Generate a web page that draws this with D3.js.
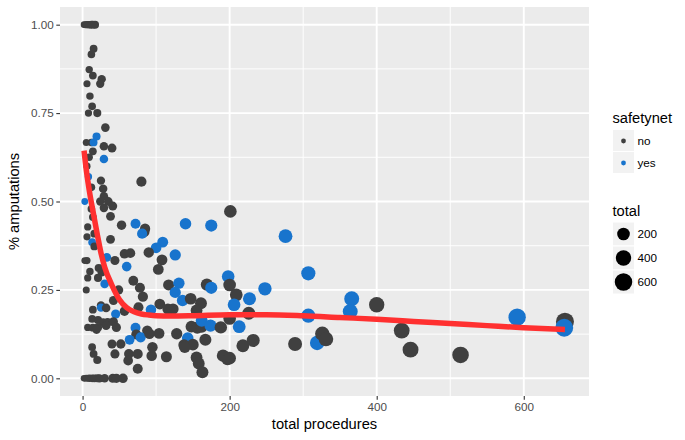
<!DOCTYPE html>
<html><head><meta charset="utf-8">
<script src="https://cdn.jsdelivr.net/npm/d3@7"></script>
<style>body{margin:0;background:#fff}svg{display:block}</style>
</head><body>
<svg id="c" width="685" height="440"></svg>
<script>
// ---- data ----
const totals = [2,4,6,8,10,12,14,17,
15,12,9,14,26,24,6,10,13,8,20,31,19,5,12,15,29,40,14,29,9,80,25,28,12,6,8,29,3,24,35,29,41,12,14,38,7,53,72,85,84,81,140,175,201,16,6,13,38,16,109,100,90,126,57,65,33,44,3,6,108,22,60,103,10,26,7,21,30,69,78,49,5,117,131,126,169,175,198,200,227,209,206,226,136,147,161,155,123,105,116,82,42,25,25,32,14,76,57,45,93,13,21,28,34,42,7,14,21,32,46,72,88,73,79,64,91,104,128,148,156,162,162,174,188,213,143,150,138,167,218,232,19,13,15,20,40,52,44,63,75,62,75,94,95,114,139,155,158,163,191,197,
2,5,9,13,16,20,23,30,41,46,55,
276,307,248,200,307,200,289,319,326,331,366,364,400,434,446,514,591,656,655];
const pcts = [1,1,1,1,1,1,1,1,
0.932,0.916,0.873,0.856,0.846,0.833,0.833,0.798,0.769,0.75,0.75,0.709,0.684,0.667,0.667,0.667,0.656,0.651,0.642,0.62,0.625,0.556,0.559,0.536,0.54,0.6,0.57,0.515,0.5,0.5,0.5,0.482,0.487,0.479,0.456,0.458,0.428,0.433,0.437,0.423,0.414,0.409,0.437,0.432,0.472,0.409,0.4,0.385,0.393,0.373,0.385,0.369,0.356,0.349,0.352,0.354,0.342,0.333,0.333,0.333,0.335,0.312,0.316,0.308,0.302,0.3,0.284,0.284,0.267,0.276,0.256,0.25,0.25,0.264,0.269,0.243,0.265,0.256,0.288,0.264,0.225,0.236,0.208,0.184,0.22,0.225,0.212,0.192,0.196,0.21,0.196,0.231,0.22,0.206,0.2,0.199,0.194,0.201,0.19,0.182,0.194,0.168,0.165,0.158,0.158,0.16,0.144,0.143,0.144,0.149,0.144,0.143,0.135,0.124,0.116,0.109,0.126,0.127,0.126,0.146,0.143,0.146,0.163,0.149,0.144,0.146,0.114,0.095,0.094,0.109,0.092,0.107,0.137,0.088,0.069,0.052,0.097,0.097,0.069,0.069,0.069,0.05,0.027,0.064,0.088,0.061,0.088,0.059,0.042,0.017,0.064,0.055,
0,0,0,0,0,0,0,0,0,0,0,
0.402,0.297,0.253,0.169,0.177,0.057,0.097,0.1,0.126,0.111,0.225,0.189,0.208,0.135,0.081,0.066,0.173,0.16,0.143];
const safety = ["no","no","no","no","no","no","no","no",
"no","no","no","no","no","no","no","no","no","no","no","no","yes","no","no","yes","no","no","no","yes","no","no","no","no","no","no","yes","no","yes","no","no","no","no","no","no","no","no","no","yes","no","no","yes","yes","yes","no","no","no","yes","no","no","yes","yes","no","yes","no","no","yes","no","no","no","no","no","yes","no","no","no","no","no","yes","no","no","no","no","no","yes","yes","no","yes","yes","no","yes","no","yes","no","yes","no","no","no","no","no","no","no","no","no","yes","no","no","no","no","yes","yes","no","no","no","no","no","no","no","no","no","no","yes","no","no","yes","yes","no","no","no","no","no","no","yes","yes","no","yes","yes","no","no","no","no","no","no","no","no","no","no","no","no","no","no","no","no","no","no","no","no","no","no","no","no","no",
"no","no","no","no","no","no","no","no","no","no","no",
"yes","yes","yes","no","yes","no","no","yes","no","no","yes","yes","no","no","no","no","yes","no","yes"];
const smoothX = [2,5,10,15,20,25,30,40,50,60,70,80,90,100,120,150,200,250,300,350,400,450,500,550,600,656];
const smoothY = [0.644,0.59,0.52,0.463,0.407,0.355,0.315,0.263,0.223,0.2,0.188,0.182,0.179,0.177,0.176,0.177,0.18,0.18,0.177,0.172,0.167,0.161,0.155,0.149,0.143,0.138];
const xTicks = [0,200,400,600];
const xMinor = [100,300,500];
const yTicks = [0,0.25,0.5,0.75,1];
const yMinor = [0.125,0.375,0.625,0.875];
const groups = ["no","yes"];
const groupColors = ["#404040","#1874CD"];
const sizeBreaks = [200,400,600];

// ---- drawing ----
const svg = d3.select("#c");
const L=60,R=589,T=7,B=396;
const xmin=d3.min(totals), xmax=d3.max(totals), xp=(xmax-xmin)*0.05;
const x = d3.scaleLinear().domain([xmin-xp, xmax+xp]).range([L,R]);
const y = d3.scaleLinear().domain([-0.05,1.05]).range([B,T]);
const r = d3.scaleSqrt().domain([0,xmax]).range([3,9]);
const col = d3.scaleOrdinal().domain(groups).range(groupColors);
const font = "'Liberation Sans', Arial, Helvetica, sans-serif";

svg.append("rect").attr("x",L).attr("y",T).attr("width",R-L).attr("height",B-T).attr("fill","#EBEBEB");
const g = svg.append("g");
g.selectAll(".xm").data(xMinor).join("line").attr("x1",d=>x(d)).attr("x2",d=>x(d)).attr("y1",T).attr("y2",B).attr("stroke","#fff").attr("stroke-width",0.95);
g.selectAll(".ym").data(yMinor).join("line").attr("y1",d=>y(d)).attr("y2",d=>y(d)).attr("x1",L).attr("x2",R).attr("stroke","#fff").attr("stroke-width",0.95);
g.selectAll(".xM").data(xTicks).join("line").attr("x1",d=>x(d)).attr("x2",d=>x(d)).attr("y1",T).attr("y2",B).attr("stroke","#fff").attr("stroke-width",1.9);
g.selectAll(".yM").data(yTicks).join("line").attr("y1",d=>y(d)).attr("y2",d=>y(d)).attr("x1",L).attr("x2",R).attr("stroke","#fff").attr("stroke-width",1.9);

// points
const pts = totals.map((t,i)=>({t, p:pcts[i], s:safety[i]}));
svg.append("g").selectAll("circle").data(pts).join("circle")
  .attr("cx",d=>x(d.t)).attr("cy",d=>y(d.p)).attr("r",d=>r(d.t)).attr("fill",d=>col(d.s));

// smooth line
const line = d3.line().x((d,i)=>x(smoothX[i])).y(d=>y(d)).curve(d3.curveMonotoneX);
svg.append("path").attr("d",line(smoothY)).attr("fill","none").attr("stroke","#FF3030").attr("stroke-width",5.5);

// axes
const xa = svg.append("g").attr("transform",`translate(0,${B})`).call(d3.axisBottom(x).tickValues(xTicks).tickSize(3.7).tickPadding(2.5).tickFormat(d3.format("d")));
const ya = svg.append("g").attr("transform",`translate(${L},0)`).call(d3.axisLeft(y).tickValues(yTicks).tickSize(3.7).tickPadding(2.5).tickFormat(d3.format(".2f")));
[xa,ya].forEach(a=>{
  a.select(".domain").remove();
  a.selectAll(".tick line").attr("stroke","#333333").attr("stroke-width",1.1);
  a.selectAll(".tick text").attr("fill","#4D4D4D").style("font-family",font).style("font-size","11.7px");
});
svg.append("text").attr("x",(L+R)/2).attr("y",429).attr("text-anchor","middle").style("font-family",font).style("font-size","14.7px").attr("fill","#000").text("total procedures");
svg.append("text").attr("transform",`translate(19,${(T+B)/2}) rotate(-90)`).attr("text-anchor","middle").style("font-family",font).style("font-size","14.7px").attr("fill","#000").text("% amputations");

// legend: safetynet
const lx=612.5;
svg.append("text").attr("x",lx).attr("y",123).style("font-family",font).style("font-size","14.7px").text("safetynet");
const lg1 = svg.append("g").selectAll("g").data(groups).join("g").attr("transform",(d,i)=>`translate(${lx},${129.5+i*22})`);
lg1.append("rect").attr("width",22).attr("height",22).attr("fill","#F2F2F2").attr("stroke","#fff").attr("stroke-width",1);
lg1.append("circle").attr("cx",11).attr("cy",11.5).attr("r",2.4).attr("fill",d=>col(d));
lg1.append("text").attr("x",25).attr("y",15.5).style("font-family",font).style("font-size","11.7px").attr("fill","#000").text(d=>d);

// legend: total
svg.append("text").attr("x",lx).attr("y",216).style("font-family",font).style("font-size","14.7px").text("total");
const lg2 = svg.append("g").selectAll("g").data(sizeBreaks).join("g").attr("transform",(d,i)=>`translate(${lx},${222+i*24})`);
lg2.append("rect").attr("width",22).attr("height",24).attr("fill","#F2F2F2").attr("stroke","#fff").attr("stroke-width",1);
lg2.append("circle").attr("cx",11).attr("cy",12).attr("r",d=>r(d)).attr("fill","#000");
lg2.append("text").attr("x",25).attr("y",16).style("font-family",font).style("font-size","11.7px").attr("fill","#000").text(d=>d);
</script>
</body></html>
